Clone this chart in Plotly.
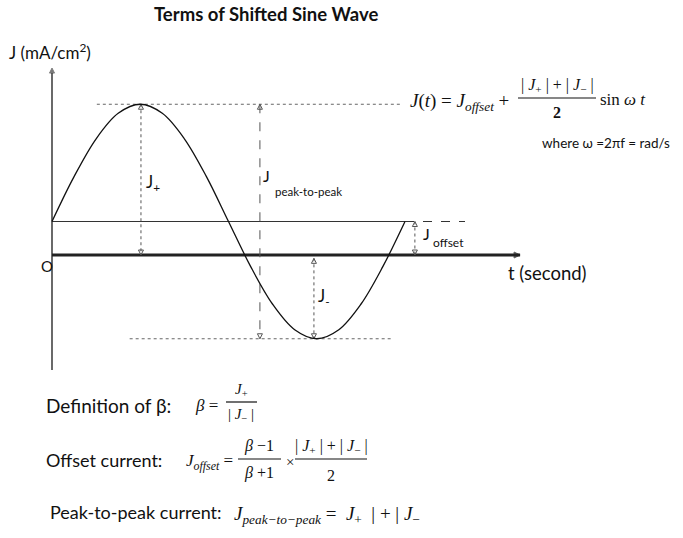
import plotly.graph_objects as go

# ---- data ----
t_wave = [0.0, 0.0625, 0.125, 0.1875, 0.25, 0.3125, 0.375, 0.4375, 0.5,
          0.5625, 0.625, 0.6875, 0.75, 0.8125, 0.875, 0.9375, 1.0]
J_wave = [1.0, 2.34, 3.47, 4.23, 4.5, 4.23, 3.47, 2.34, 1.0,
          -0.34, -1.47, -2.23, -2.5, -2.23, -1.47, -0.34, 1.0]
J_plus = 4.5
J_minus = -2.5
J_offset = 1.0
t_end = 1.0

# guide positions (t in seconds)
peak_guide_t = [0.127, 0.986]
trough_guide_t = [0.22, 0.963]
offset_dash_t = [1.0, 1.17]
arrow_Jplus_t = 0.252
arrow_Jpp_t = 0.589
arrow_Jminus_t = 0.742
arrow_Joff_t = 1.028
t_axis_end = 1.326
J_axis_range = [-3.43, 5.58]

W, H = 683, 538
SANS = "Lato"
SERIF = "Liberation Serif"

fig = go.Figure()

def add_line(x, y, color="#222", width=1.0, dash="solid", symbols=None, msize=5):
    kw = dict(x=x, y=y, line=dict(color=color, width=width, dash=dash),
              hoverinfo="skip", showlegend=False)
    if symbols:
        kw["mode"] = "lines+markers"
        kw["marker"] = dict(symbol=symbols, size=msize, color=color,
                            line=dict(color=color, width=1))
    else:
        kw["mode"] = "lines"
    fig.add_trace(go.Scatter(**kw))

# axes of the diagram
add_line([0, 0], J_axis_range, color="#444", width=1.6,
         symbols=["circle-open", "arrow-up"], msize=[0, 5])
add_line([0, t_axis_end], [0, 0], color="#222", width=2.8,
         symbols=["circle-open", "arrow-right"], msize=[0, 6])

# guide lines
add_line(peak_guide_t, [J_plus, J_plus], color="#666", width=1, dash="dot")
add_line(trough_guide_t, [J_minus, J_minus], color="#666", width=1, dash="dot")
add_line([0, t_end], [J_offset, J_offset], color="#333", width=1)
add_line(offset_dash_t, [J_offset, J_offset], color="#333", width=1, dash="dash")

# double-headed arrows
dbl = ["arrow-up-open", "arrow-down-open"]
add_line([arrow_Jplus_t, arrow_Jplus_t], [J_plus, 0], color="#555", width=1, dash="dot", symbols=dbl, msize=5)
add_line([arrow_Jpp_t, arrow_Jpp_t], [J_plus, J_minus], color="#555", width=1, dash="dash", symbols=dbl, msize=5)
add_line([arrow_Joff_t, arrow_Joff_t], [J_offset, 0], color="#555", width=1, dash="dot", symbols=dbl, msize=5)
add_line([arrow_Jminus_t, arrow_Jminus_t], [-0.1, J_minus], color="#555", width=1, dash="dot", symbols=dbl, msize=5)

# the wave
fig.add_trace(go.Scatter(x=t_wave, y=J_wave, mode="lines",
                         line=dict(color="#111", width=1.3, shape="spline", smoothing=1.0),
                         hoverinfo="skip", showlegend=False))

# ---- text ----
ann = []
shapes = []

def txt(x, y, s, size, family=SANS, xanchor="left", color="#111"):
    ann.append(dict(x=x / W, y=1 - y / H, xref="paper", yref="paper", text=s,
                    showarrow=False, xanchor=xanchor, yanchor="middle",
                    font=dict(size=size, family=family, color=color)))

def bar(x0, x1, y):
    shapes.append(dict(type="line", xref="paper", yref="paper",
                       x0=x0 / W, x1=x1 / W, y0=1 - y / H, y1=1 - y / H,
                       line=dict(color="#111", width=1.2)))

txt(266, 14, "<b>Terms of Shifted Sine Wave</b>", 18.5, xanchor="center")
txt(7, 52, "J (mA/cm<sup>2</sup>)", 17)
txt(39, 266, "O", 15)
txt(506, 273, "t (second)", 18.5)
txt(144, 183, "J<sub>+</sub>", 17)
txt(261, 176, "J", 16)
txt(273, 191, "peak-to-peak", 11.5)
txt(421, 234, "J", 16)
txt(431, 243, "offset", 12)
txt(316, 297, "J<sub>-</sub>", 17)

# J(t) formula
txt(408, 102, "<i>J</i>(<i>t</i>) = <i>J</i><sub><i>offset</i></sub> +", 19, family=SERIF)
txt(557, 85, "| <i>J</i><sub>+</sub> | + | <i>J</i><sub>−</sub> |", 16, family=SERIF, xanchor="center")
bar(518, 596, 98)
txt(557, 112, "<b>2</b>", 16, family=SERIF, xanchor="center")
txt(598, 100, "sin <i>ω t</i>", 17, family=SERIF)
txt(540, 143, "where ω =2πf = rad/s", 13.5)

# definitions
txt(44, 405, "Definition of β:", 19)
txt(193, 405, "<i>β</i> =", 17, family=SERIF)
txt(241, 390, "<i>J</i><sub>+</sub>", 15, family=SERIF, xanchor="center")
bar(226, 257, 402)
txt(241, 415, "| <i>J</i><sub>−</sub> |", 15, family=SERIF, xanchor="center")

txt(44, 460, "Offset current:", 18)
txt(184, 462, "<i>J</i><sub><i>offset</i></sub> =", 17, family=SERIF)
txt(259, 446, "<i>β</i> −1", 16, family=SERIF, xanchor="center")
bar(238, 281, 459)
txt(259, 473, "<i>β</i> +1", 16, family=SERIF, xanchor="center")
txt(284, 462, "×", 15, family=SERIF)
txt(331, 446, "| <i>J</i><sub>+</sub> | + | <i>J</i><sub>−</sub> |", 16, family=SERIF, xanchor="center")
bar(295, 367, 459)
txt(331, 475, "2", 16, family=SERIF, xanchor="center")

txt(48, 512, "Peak-to-peak current:", 18)
txt(232, 515, "<i>J</i><sub><i>peak−to−peak</i></sub> =  <i>J</i><sub>+</sub>  | + | <i>J</i><sub>−</sub>", 19, family=SERIF)

# axis ranges chosen so that t=0 -> x=52px, J=0 -> y=255px
px_per_s = 353.0
px_per_J = 33.5
x0 = -52 / px_per_s
x1 = (W - 52) / px_per_s
y1 = 255 / px_per_J
y0 = -(H - 255) / px_per_J

fig.update_layout(
    width=W, height=H,
    margin=dict(l=0, r=0, t=0, b=0),
    paper_bgcolor="white", plot_bgcolor="white",
    xaxis=dict(range=[x0, x1], visible=False, fixedrange=True),
    yaxis=dict(range=[y0, y1], visible=False, fixedrange=True),
    annotations=ann, shapes=shapes,
)

fig.write_html("out.html")
